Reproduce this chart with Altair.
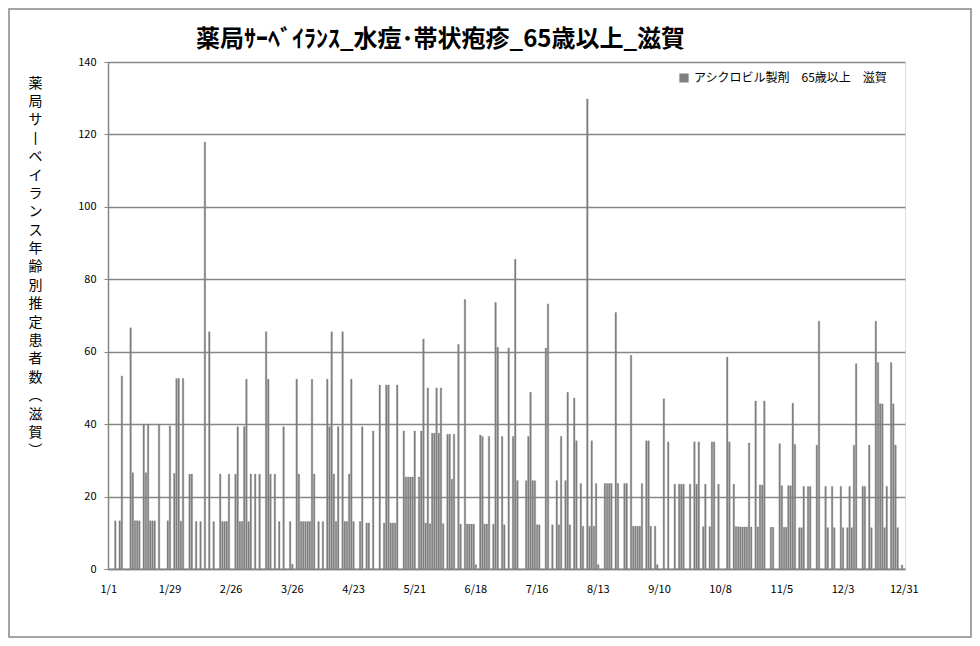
import altair as alt
import pandas as pd

# ---- data (day index 0 = Jan 1, non-leap year) ----
days_q1 = [3, 5, 6, 10, 11, 12, 13, 14, 16, 17, 18, 19, 20, 21, 23, 27, 28, 30, 31, 32,
           33, 34, 37, 38, 40, 42, 44, 46, 48, 51, 52, 53, 54, 55, 58, 59, 60, 61, 62, 63,
           64, 65, 67, 69, 72, 73, 74, 76, 78, 80, 83, 84, 86, 87, 88, 89]
vals_q1 = [13.3, 13.3, 53.3, 66.6, 26.6, 13.3, 13.3, 13.3, 40.0, 26.6, 40.0, 13.3, 13.3, 13.3, 40.0, 13.3, 39.5, 26.4, 52.6, 52.6,
           13.2, 52.6, 26.2, 26.2, 13.1, 13.1, 117.9, 65.5, 13.1, 26.2, 13.1, 13.1, 13.1, 26.2, 26.2, 39.3, 13.1, 13.1, 39.3, 52.4,
           13.1, 26.2, 26.2, 26.2, 65.5, 52.4, 26.2, 26.2, 13.1, 39.3, 13.1, 1.3, 52.4, 26.2, 13.1, 13.1]

days_q2 = [90, 91, 92, 93, 94, 96, 98, 100, 101, 102, 103, 104, 105, 107, 108, 109, 110, 111, 112, 115,
           116, 118, 119, 121, 124, 126, 127, 128, 129, 130, 131, 132, 135, 136, 137, 138, 139, 140, 142, 143,
           144, 145, 146, 147, 148, 149, 150, 151, 152, 153, 155, 156, 157, 158, 160, 161, 163, 164, 165, 166,
           167, 168, 170, 171, 172, 173, 174, 176, 177, 178, 180]
vals_q2 = [13.1, 13.1, 13.1, 52.4, 26.2, 13.1, 13.1, 52.4, 39.3, 65.5, 26.2, 13.1, 39.3, 65.5, 13.1, 13.1, 26.2, 52.4, 13.1, 13.1,
           39.3, 12.7, 12.7, 38.1, 50.8, 12.7, 50.8, 50.8, 12.7, 12.7, 12.7, 50.8, 38.1, 25.4, 25.4, 25.4, 25.4, 38.1, 25.4, 38.1,
           63.5, 12.7, 50.0, 12.5, 37.5, 37.5, 50.0, 37.5, 50.0, 12.5, 37.2, 37.2, 24.8, 37.2, 62.0, 12.4, 74.4, 12.4, 12.4, 12.4,
           12.4, 1.2, 37.0, 36.6, 12.4, 12.4, 36.6, 12.4, 73.6, 61.2, 36.6]

days_q3 = [181, 183, 185, 186, 187, 191, 192, 193, 194, 195, 196, 197, 200, 201, 203, 205, 206, 207, 209, 210,
           211, 213, 214, 216, 217, 219, 220, 221, 222, 223, 224, 227, 228, 229, 230, 232, 233, 236, 237, 239,
           240, 241, 242, 243, 244, 246, 247, 248, 250, 251, 254, 256, 259, 261, 262, 263, 266, 268, 269, 270,
           272]
vals_q3 = [12.2, 61.0, 36.6, 85.5, 24.4, 24.4, 36.6, 48.8, 24.4, 24.4, 12.2, 12.2, 61.0, 73.2, 12.2, 24.4, 12.2, 36.6, 24.4, 48.8,
           12.2, 47.2, 35.4, 23.6, 11.8, 129.8, 11.8, 35.4, 11.8, 23.6, 1.2, 23.6, 23.6, 23.6, 23.6, 70.8, 23.6, 23.6, 23.6, 59.0,
           11.8, 11.8, 11.8, 11.8, 23.6, 35.4, 35.4, 11.8, 11.8, 1.2, 47.0, 35.1, 23.4, 23.4, 23.4, 23.4, 23.4, 35.1, 23.4, 35.1,
           11.7]

days_q4 = [273, 275, 276, 277, 279, 283, 284, 286, 287, 288, 289, 290, 291, 292, 293, 294, 296, 297, 298, 299,
           300, 303, 304, 307, 308, 309, 310, 311, 312, 313, 314, 316, 317, 318, 320, 321, 324, 325, 328, 329,
           331, 332, 335, 336, 338, 339, 340, 341, 342, 345, 346, 348, 349, 351, 352, 353, 354, 355, 356, 358,
           359, 360, 361, 363]
vals_q4 = [23.4, 11.7, 35.1, 35.1, 23.4, 58.5, 35.1, 23.4, 11.7, 11.7, 11.6, 11.6, 11.6, 11.6, 34.8, 11.6, 46.4, 11.6, 23.2, 23.2,
           46.4, 11.5, 11.5, 34.6, 23.0, 11.5, 11.5, 23.0, 23.0, 45.8, 34.4, 11.4, 11.4, 22.8, 22.8, 22.8, 34.2, 68.4, 22.8, 11.4,
           22.8, 11.4, 22.8, 11.4, 11.4, 22.8, 11.4, 34.2, 56.7, 22.8, 22.8, 34.2, 11.4, 68.4, 57.0, 45.6, 45.6, 11.4, 22.8, 57.0,
           45.6, 34.2, 11.4, 1.1]

tick_labels = ["1/1", "1/29", "2/26", "3/26", "4/23", "5/21", "6/18", "7/16",
               "8/13", "9/10", "10/8", "11/5", "12/3", "12/31"]
y_ticks = [0, 20, 40, 60, 80, 100, 120, 140]

title_text = "薬局ｻｰﾍﾞｲﾗﾝｽ_水痘･帯状疱疹_65歳以上_滋賀"
legend_label = "アシクロビル製剤　65歳以上　滋賀"
y_title_chars = ["薬", "局", "サ", "丨", "ベ", "イ", "ラ", "ン", "ス", "年", "齢",
                 "別", "推", "定", "患", "者", "数", "︵", "滋", "賀", "︶"]

# ---- build table ----
days = days_q1 + days_q2 + days_q3 + days_q4
vals = vals_q1 + vals_q2 + vals_q3 + vals_q4
assert len(days) == len(vals)

dates = pd.date_range("2019-01-01", "2019-12-31", freq="D")
labels = [f"{d.month}/{d.day}" for d in dates]
counts = [0.0] * len(dates)
for d, v in zip(days, vals):
    counts[d] = v
df = pd.DataFrame({"date": labels, "count": counts, "series": legend_label})

FONT = "Noto Sans CJK JP"
GRID = "#868686"
BAR = "#7f7f7f"
W, H = 797, 507
PAD_L, PAD_T, PAD_R, PAD_B = 100, 54, 67, 69

bars = alt.Chart(df).mark_bar(stroke=BAR, strokeWidth=0.35).encode(
    x=alt.X("date:O", sort=labels,
            scale=alt.Scale(paddingInner=0.3, paddingOuter=0),
            axis=alt.Axis(values=tick_labels, labelAngle=0, title=None, ticks=False,
                          domainColor=GRID, domainWidth=1.5, labelFont=FONT,
                          labelFontSize=11, labelColor="#000000", labelPadding=14,
                          labelOverlap=False, labelBound=False, labelFlush=False,
                          grid=False)),
    y=alt.Y("count:Q", scale=alt.Scale(domain=[0, 140]),
            axis=alt.Axis(values=y_ticks, grid=True, gridColor=GRID, gridWidth=1.5,
                          domainColor=GRID, domainWidth=1.5, tickColor=GRID, tickSize=4,
                          labelFont=FONT, labelFontSize=11, labelColor="#000000",
                          labelPadding=8, title=y_title_chars, titleAngle=0,
                          titleAlign="center", titleBaseline="top", titleX=-73,
                          titleY=14, titleLineHeight=18.4, titleFontSize=14,
                          titleFontWeight="normal", titleFont=FONT, titleColor="#000000")),
    color=alt.Color("series:N", scale=alt.Scale(range=[BAR]),
                    legend=alt.Legend(title=None, orient="none", legendX=570, legendY=10,
                                      symbolType="square", symbolSize=60, labelFont=FONT,
                                      labelFontSize=12, labelColor="#000000", labelLimit=400)),
)

border = alt.Chart(pd.DataFrame({"a": [0]})).mark_rect(
    fillOpacity=0, stroke=GRID, strokeWidth=1.5
).encode(
    x=alt.value(-PAD_L + 1), x2=alt.value(W + PAD_R - 1),
    y=alt.value(-PAD_T + 1), y2=alt.value(H + PAD_B - 1),
)

chart = alt.layer(border, bars).properties(
    width=W, height=H,
    title=alt.TitleParams(title_text, font=FONT, fontSize=24, fontWeight="bold",
                          color="#000000", anchor="middle", dx=-66, offset=-44),
    autosize=alt.AutoSizeParams(type="none"),
    padding={"left": PAD_L, "top": PAD_T, "right": PAD_R, "bottom": PAD_B},
).configure_view(stroke=None).configure(background="#ffffff")

chart.save("out.html", embed_options={"renderer": "svg", "actions": False})
